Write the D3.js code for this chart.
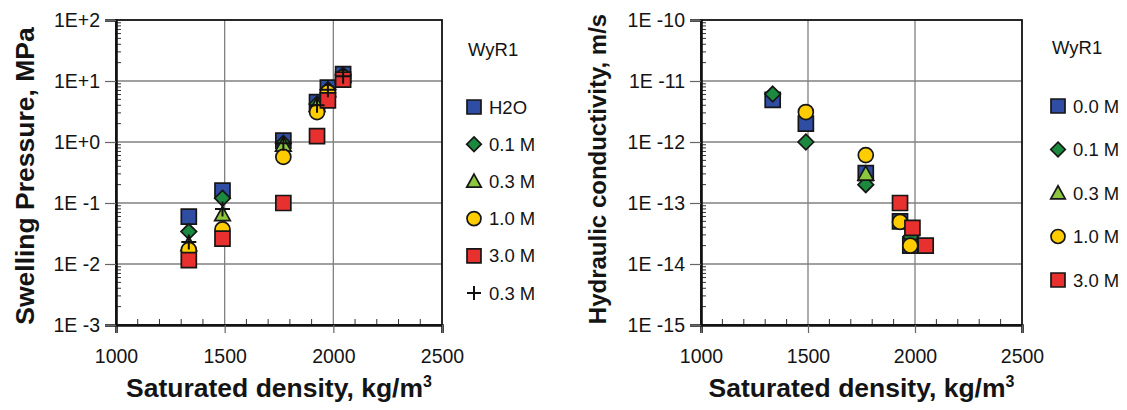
<!DOCTYPE html>
<html><head><meta charset="utf-8">
<script src="https://cdn.jsdelivr.net/npm/d3@7"></script>
<style>
body{margin:0;background:#fff}
svg text{font-family:"Liberation Sans",Arial,sans-serif;fill:#141414}
</style>
</head><body>
<svg id="chart" width="1127" height="410"></svg>
<script>
// ---- axis ticks ----
const densityTicks = [1000, 1500, 2000, 2500];
const densityMinorTicks = [1100, 1200, 1300, 1400, 1600, 1700, 1800, 1900, 2100, 2200, 2300, 2400];
const pressureTicks = [1e2, 1e1, 1e0, 1e-1, 1e-2, 1e-3];
const pressureTickLabels = ["1E+2", "1E+1", "1E+0", "1E -1", "1E -2", "1E -3"];
const conductivityTicks = [1e-10, 1e-11, 1e-12, 1e-13, 1e-14, 1e-15];
const conductivityTickLabels = ["1E -10", "1E -11", "1E -12", "1E -13", "1E -14", "1E -15"];

// ---- swelling pressure (MPa) vs saturated density ----
const swellDensity = [1335, 1490, 1770, 1925, 1975, 2045];
const swellH2O   = [0.06, 0.16, 1.05, 4.5, 7.8, 13];
const swell01M   = [0.034, 0.12, 0.95, 4.2, 7.2, 12.5];
const swell03M   = [0.021, 0.065, 0.9, 4.0, 7.0, 12];
const swell10M   = [0.017, 0.037, 0.57, 3.1, 6.5, 11.5];
const swell30M   = [0.0116, 0.026, 0.1, 1.25, 4.8, 10.5];
const swell03Mb  = [0.023, 0.08, 0.95, 4.0, 7.2, 12];
const swellLabels = ["H2O", "0.1 M", "0.3 M", "1.0 M", "3.0 M", "0.3 M"];

// ---- hydraulic conductivity (m/s) vs saturated density ----
const condDensity00 = [1335, 1490, 1770, 1930, 1978];
const cond00M       = [4.9e-12, 2.0e-12, 3.1e-13, 5.0e-14, 2.0e-14];
const condDensity01 = [1335, 1490, 1770, 1980];
const cond01M       = [6.1e-12, 1.0e-12, 2.0e-13, 2.8e-14];
const condDensity03 = [1770];
const cond03M       = [3.0e-13];
const condDensity10 = [1490, 1770, 1930, 1978];
const cond10M       = [3.1e-12, 6.1e-13, 4.9e-14, 2.0e-14];
const condDensity30 = [1930, 1988, 2050];
const cond30M       = [1.0e-13, 3.9e-14, 2.0e-14];
const condLabels = ["0.0 M", "0.1 M", "0.3 M", "1.0 M", "3.0 M"];

// ---- marker styles ----
const OUTLINE = "#161616";
const styles = {
  square:   {fill: "#2f4da3"},
  diamond:  {fill: "#1b8a3f"},
  triangle: {fill: "#8cc63f"},
  circle:   {fill: "#ffcc00"},
  red:      {fill: "#e8302e"},
  plus:     {fill: "none"}
};

function markerPath(kind, s) {
  // s: nominal marker width in px
  if (kind === "square" || kind === "red") return d3.symbol(d3.symbolSquare, s * s)();
  if (kind === "circle") return d3.symbol(d3.symbolCircle, Math.PI * (s / 2) * (s / 2))();
  if (kind === "diamond") {
    const h = s * 0.52;
    return `M0,${-h}L${h},0L0,${h}L${-h},0Z`;
  }
  if (kind === "triangle") {
    const h = s * 0.52;
    return `M0,${-h}L${h},${h * 0.8}L${-h},${h * 0.8}Z`;
  }
  const h = s * 0.5;
  return `M${-h},0H${h}M0,${-h}V${h}`;
}

function drawMarker(g, kind, x, y, s) {
  const p = g.append("path")
    .attr("transform", `translate(${x},${y})`)
    .attr("d", markerPath(kind, s));
  if (kind === "plus") {
    p.attr("fill", "none").attr("stroke", "#111").attr("stroke-width", 2);
  } else {
    p.attr("fill", styles[kind].fill).attr("stroke", OUTLINE).attr("stroke-width", 1.7);
  }
}

const svg = d3.select("#chart");

function panel(opt) {
  const x = d3.scaleLinear().domain([1000, 2500]).range([opt.x0, opt.x1]);
  const y = d3.scaleLog().domain(opt.yDomain).range([325, 20]);
  const g = svg.append("g");

  // gridlines
  g.append("g").selectAll("line").data(opt.yTicks.slice(1, -1)).join("line")
    .attr("x1", opt.x0).attr("x2", opt.x1)
    .attr("y1", d => y(d)).attr("y2", d => y(d))
    .attr("stroke", "#808080").attr("stroke-width", 1.3);
  g.append("g").selectAll("line").data(densityTicks.slice(1, -1)).join("line")
    .attr("y1", 20).attr("y2", 325)
    .attr("x1", d => x(d)).attr("x2", d => x(d))
    .attr("stroke", "#808080").attr("stroke-width", 1.3);

  // minor ticks (inside)
  const minorY = [];
  const [lo, hi] = opt.yDomain;
  for (let e = Math.round(Math.log10(lo)); e < Math.round(Math.log10(hi)); e++)
    for (let m = 2; m <= 9; m++) minorY.push(m * Math.pow(10, e));
  g.append("g").selectAll("line").data(minorY).join("line")
    .attr("x1", opt.x0).attr("x2", opt.x0 + 5)
    .attr("y1", d => y(d)).attr("y2", d => y(d))
    .attr("stroke", "#333").attr("stroke-width", 1);
  g.append("g").selectAll("line").data(densityMinorTicks).join("line")
    .attr("x1", d => x(d)).attr("x2", d => x(d))
    .attr("y1", 325).attr("y2", 319)
    .attr("stroke", "#333").attr("stroke-width", 1);

  // frame
  g.append("rect").attr("x", opt.x0).attr("y", 20)
    .attr("width", opt.x1 - opt.x0).attr("height", 305)
    .attr("fill", "none").attr("stroke", "#111").attr("stroke-width", 1.8);

  // axes
  const ax = g.append("g").attr("transform", "translate(0,325)")
    .call(d3.axisBottom(x).tickValues(densityTicks).tickSize(8).tickPadding(16).tickFormat(d3.format("d")));
  const ay = g.append("g").attr("transform", `translate(${opt.x0},0)`)
    .call(d3.axisLeft(y).tickValues(opt.yTicks).tickSize(11).tickPadding(5)
      .tickFormat((d, i) => opt.yLabels[i]));
  [ax, ay].forEach(a => {
    a.select(".domain").attr("stroke", "#111").attr("stroke-width", 2.6);
    a.selectAll(".tick line").attr("stroke", "#666").attr("stroke-width", 1.2);
    a.selectAll(".tick text").attr("font-size", 19.5).attr("fill", "#141414")
      .attr("font-family", '"Liberation Sans",Arial,sans-serif');
  });

  // axis titles
  const xt = g.append("text")
    .attr("x", (opt.x0 + opt.x1) / 2).attr("y", 397)
    .attr("text-anchor", "middle").attr("font-size", 26.5).attr("font-weight", "bold");
  xt.append("tspan").text("Saturated density, kg/m");
  xt.append("tspan").text("3").attr("font-size", 16).attr("dy", -10);

  g.append("text")
    .attr("transform", `translate(${opt.titleX},${opt.titleY}) rotate(-90)`)
    .attr("dy", "0.35em")
    .attr("text-anchor", "middle").attr("font-size", opt.titleSize).attr("font-weight", "bold")
    .text(opt.yTitle);

  // points
  const pts = g.append("g");
  opt.series.forEach(s => {
    s.values.forEach((v, i) => drawMarker(pts, s.kind, x(s.density[i]), y(v), 15));
  });

  // legend
  const lg = g.append("g");
  lg.append("text").attr("x", opt.legX - 6).attr("y", opt.legTitleY).attr("dy", "0.35em")
    .attr("font-size", 18.5).text("WyR1");
  opt.series.forEach((s, i) => {
    const yy = opt.legY0 + i * opt.legStep;
    drawMarker(lg, s.kind, opt.legX, yy, 14);
    lg.append("text").attr("x", opt.legX + 15).attr("y", yy).attr("dy", "0.36em")
      .attr("font-size", 18.5).text(s.label);
  });
}

panel({
  x0: 116, x1: 442,
  yDomain: [1e-3, 1e2], yTicks: pressureTicks, yLabels: pressureTickLabels,
  yTitle: "Swelling Pressure, MPa", titleX: 25, titleY: 176, titleSize: 26.5,
  legX: 474, legTitleY: 50, legY0: 107, legStep: 37.2,
  series: [
    {kind: "square",   density: swellDensity, values: swellH2O,  label: swellLabels[0]},
    {kind: "diamond",  density: swellDensity, values: swell01M,  label: swellLabels[1]},
    {kind: "triangle", density: swellDensity, values: swell03M,  label: swellLabels[2]},
    {kind: "circle",   density: swellDensity, values: swell10M,  label: swellLabels[3]},
    {kind: "red",      density: swellDensity, values: swell30M,  label: swellLabels[4]},
    {kind: "plus",     density: swellDensity, values: swell03Mb, label: swellLabels[5]}
  ]
});

panel({
  x0: 701, x1: 1022,
  yDomain: [1e-15, 1e-10], yTicks: conductivityTicks, yLabels: conductivityTickLabels,
  yTitle: "Hydraulic conductivity, m/s", titleX: 598, titleY: 169, titleSize: 24,
  legX: 1058, legTitleY: 48, legY0: 106, legStep: 43.5,
  series: [
    {kind: "square",   density: condDensity00, values: cond00M, label: condLabels[0]},
    {kind: "diamond",  density: condDensity01, values: cond01M, label: condLabels[1]},
    {kind: "triangle", density: condDensity03, values: cond03M, label: condLabels[2]},
    {kind: "circle",   density: condDensity10, values: cond10M, label: condLabels[3]},
    {kind: "red",      density: condDensity30, values: cond30M, label: condLabels[4]}
  ]
});
</script>
</body></html>
